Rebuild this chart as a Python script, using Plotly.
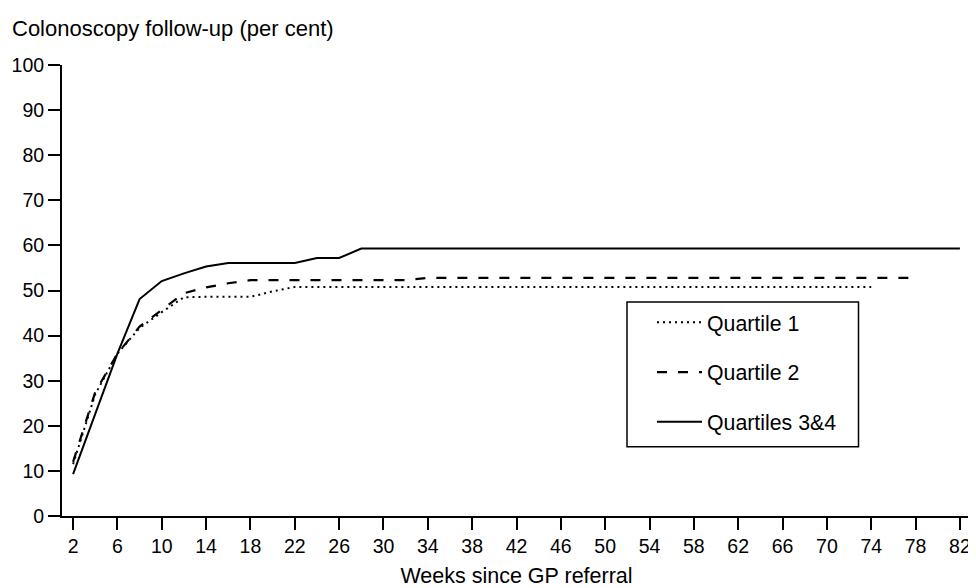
import plotly.graph_objects as go

# ---- data ----
q1_weeks = [2, 4, 6, 8, 10, 12, 14, 16, 18, 20, 22, 74]
q1_vals = [11.5, 27.0, 36.0, 41.7, 45.2, 48.5, 48.6, 48.6, 48.6, 49.8, 50.8, 50.8]

q2_weeks = [2, 4, 6, 8, 10, 12, 14, 16, 18, 32, 34, 78]
q2_vals = [12.0, 27.5, 36.0, 42.0, 45.7, 49.4, 50.7, 51.6, 52.3, 52.3, 52.8, 52.8]

q34_weeks = [2, 4, 6, 8, 10, 12, 14, 16, 22, 24, 26, 28, 82]
q34_vals = [9.3, 22.7, 36.0, 48.1, 52.1, 53.8, 55.3, 56.1, 56.1, 57.2, 57.2, 59.3, 59.3]

series_names = ["Quartile 1", "Quartile 2", "Quartiles 3&4"]
x_tick_vals = list(range(2, 83, 4))
y_tick_vals = list(range(0, 101, 10))

FONT = "Liberation Sans, Arial, sans-serif"

# figure is drawn inside the page body (8px default margin), so size it to fit
W, H = 968, 580
L, R, T, B = 54, 5, 57, 72
PW, PH = W - L - R, H - T - B


def px(xp):
    return (xp - L) / PW


def py(yp):
    return (H - B - yp) / PH


fig = go.Figure()
fig.add_trace(go.Scatter(x=q1_weeks, y=q1_vals, mode="lines", name=series_names[0],
                         legendgroup="a",
                         line=dict(color="black", width=2, dash="2px,4px")))
fig.add_trace(go.Scatter(x=q2_weeks, y=q2_vals, mode="lines", name=series_names[1],
                         legendgroup="b",
                         line=dict(color="black", width=2.2, dash="10px,11px")))
fig.add_trace(go.Scatter(x=q34_weeks, y=q34_vals, mode="lines", name=series_names[2],
                         legendgroup="c",
                         line=dict(color="black", width=2)))

fig.update_layout(
    width=W, height=H, autosize=False,
    margin=dict(l=L, r=R, t=T, b=B),
    paper_bgcolor="white", plot_bgcolor="white",
    font=dict(family=FONT, size=20, color="black"),
    title=dict(text="Colonoscopy follow-up (per cent)", x=4/W, xanchor="left",
               xref="container", y=1-20/H, yanchor="middle", yref="container",
               font=dict(size=22, family=FONT, color="black")),
    showlegend=True,
    legend=dict(x=px(644), xanchor="left", y=py(294), yanchor="top",
                bgcolor="rgba(0,0,0,0)", borderwidth=0, tracegroupgap=19,
                itemwidth=45, font=dict(size=21.3, family=FONT, color="black")),
    shapes=[dict(type="rect", xref="paper", yref="paper",
                 x0=px(619), x1=px(850.5),
                 y0=py(438.7), y1=py(294),
                 line=dict(color="black", width=1.5))],
)

fig.update_xaxes(range=[1, 83], tickvals=x_tick_vals, ticks="outside", ticklen=12,
                 tickwidth=1.5, tickcolor="black", showline=True, linewidth=2,
                 linecolor="black", showgrid=False, zeroline=False, automargin=False,
                 tickfont=dict(size=19.5, family=FONT, color="black"),
                 title=dict(text="Weeks since GP referral", standoff=18,
                            font=dict(size=21.5, family=FONT, color="black")))
fig.update_yaxes(range=[0, 100], tickvals=y_tick_vals, ticks="outside", ticklen=12,
                 tickwidth=1.5, tickcolor="black", showline=True, linewidth=2,
                 linecolor="black", showgrid=False, zeroline=False, automargin=False,
                 tickfont=dict(size=19.5, family=FONT, color="black"))

fig.write_html("out.html")
